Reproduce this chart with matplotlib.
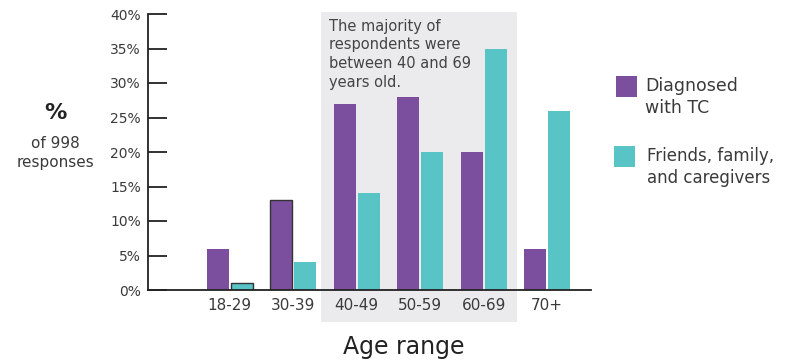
import matplotlib.pyplot as plt
from matplotlib.patches import Rectangle
import numpy as np

plt.rcParams['font.family'] = ['DejaVu Sans']

age_groups = ['18-29', '30-39', '40-49', '50-59', '60-69', '70+']
diagnosed = [6, 13, 27, 28, 20, 6]
friends = [1, 4, 14, 20, 35, 26]
y_ticks = [0, 5, 10, 15, 20, 25, 30, 35, 40]

purple = '#7B4F9E'
teal = '#58C4C6'
text_col = '#3a3a3a'

W, H = 788, 360
fig = plt.figure(figsize=(W / 100, H / 100), dpi=100)
ax = fig.add_axes([148 / W, 70 / H, (591 - 148) / W, (290 - 14) / H])

x = np.arange(len(age_groups))
off = 0.189
bw = 0.346

# shaded highlight for 40-69
ax.add_patch(Rectangle((1.43, -4.64), 4.52 - 1.43, 40.29 + 4.64,
                       facecolor='#EBEBED', edgecolor='none', zorder=0, clip_on=False))

b1 = ax.bar(x - off, diagnosed, width=bw, color=purple, zorder=2)
b2 = ax.bar(x + off, friends, width=bw, color=teal, zorder=2)
# the two bars with dark outline in the original
b1[1].set_edgecolor('#333333'); b1[1].set_linewidth(1.0)
b2[0].set_edgecolor('#333333'); b2[0].set_linewidth(1.0)

ax.set_xlim(-1.29, 5.69)
ax.set_ylim(0, 40)
ax.set_yticks(y_ticks)
ax.set_yticklabels([f'{v}%' for v in y_ticks], fontsize=10, color=text_col)
ax.set_xticks(x)
ax.set_xticklabels(age_groups, fontsize=11, color=text_col)
ax.tick_params(axis='y', direction='in', length=14, width=1.3, color='#222222', pad=5)
ax.tick_params(axis='x', length=0, pad=6)
for s in ['top', 'right']:
    ax.spines[s].set_visible(False)
for s in ['left', 'bottom']:
    ax.spines[s].set_color('#222222')
    ax.spines[s].set_linewidth(1.3)
ax.patch.set_alpha(0)

ax.text((329 - 230) / 63.5, 39.3,
        'The majority of\nrespondents were\nbetween 40 and 69\nyears old.',
        fontsize=10.5, color='#444444', ha='left', va='top', linespacing=1.3, zorder=3)

fig.text(404 / W, 1 - 347 / H, 'Age range', fontsize=17, color='#222222', ha='center', va='center')
fig.text(55 / W, 1 - 113 / H, '%', fontsize=16, fontweight='bold', color='#222222', ha='center', va='center')
fig.text(55 / W, 1 - 153 / H, 'of 998\nresponses', fontsize=11, color=text_col,
         ha='center', va='center', linespacing=1.3)

# legend
fig.patches.append(Rectangle((616 / W, 1 - 97 / H), 21 / W, 21 / H, transform=fig.transFigure,
                             facecolor=purple, edgecolor='none'))
fig.patches.append(Rectangle((614 / W, 1 - 167 / H), 21 / W, 21 / H, transform=fig.transFigure,
                             facecolor=teal, edgecolor='none'))
fig.text(645 / W, 1 - 97 / H, 'Diagnosed\nwith TC', fontsize=12.5, color=text_col,
         ha='left', va='center', linespacing=1.25)
fig.text(647 / W, 1 - 167 / H, 'Friends, family,\nand caregivers', fontsize=12, color=text_col,
         ha='left', va='center', linespacing=1.25)

fig.savefig('out.png', dpi=100)
